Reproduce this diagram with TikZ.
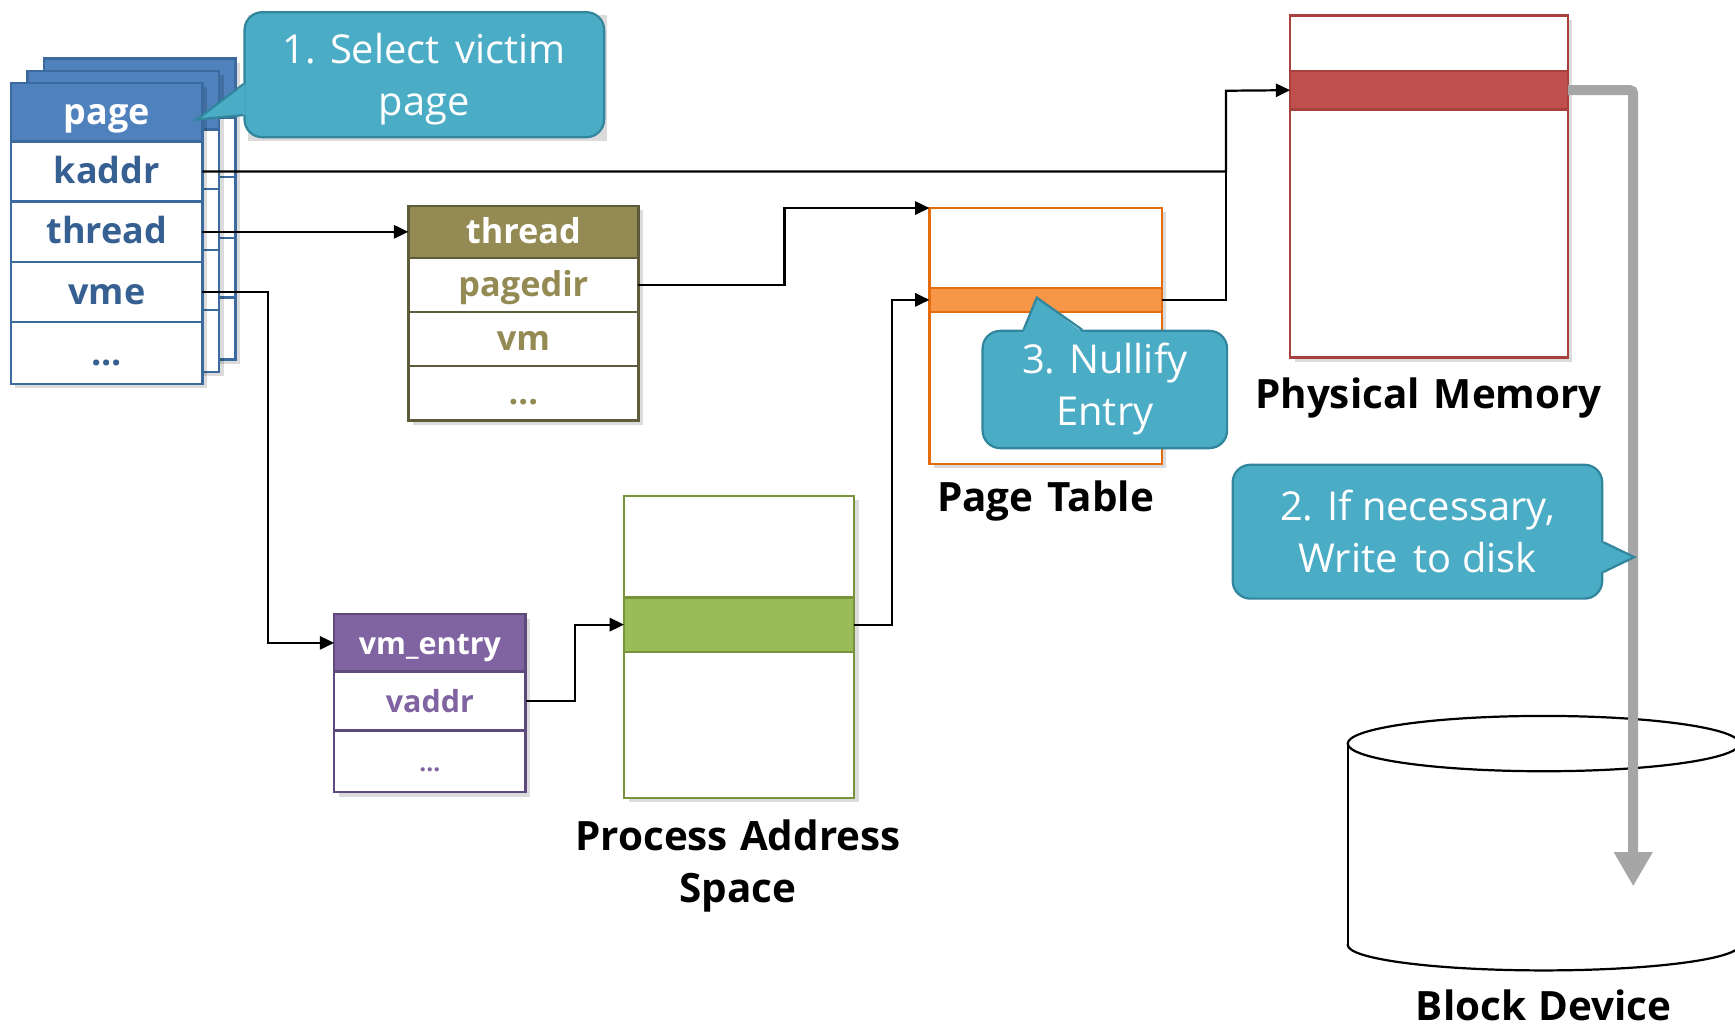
\documentclass[tikz,border=0pt]{standalone}
\usepackage{fontspec}
\setmainfont{Open Sans}
\usetikzlibrary{arrows.meta,calc}
\definecolor{pgblue}{HTML}{4F81BD}
\definecolor{pgborder}{HTML}{3C6A9E}
\definecolor{pgtext}{HTML}{366092}
\definecolor{olhead}{HTML}{948A54}
\definecolor{olborder}{HTML}{5E5A3A}
\definecolor{puhead}{HTML}{8064A2}
\definecolor{puborder}{HTML}{5F4A7D}
\definecolor{grband}{HTML}{9BBB59}
\definecolor{grborder}{HTML}{77933C}
\definecolor{orband}{HTML}{F79646}
\definecolor{orborder}{HTML}{E46C0A}
\definecolor{rdband}{HTML}{C0504D}
\definecolor{rdborder}{HTML}{A8403D}
\definecolor{cofill}{HTML}{4BACC6}
\definecolor{coborder}{HTML}{31859C}
\definecolor{grayarrow}{HTML}{A6A6A6}
\begin{document}
\begin{tikzpicture}[x=1pt,y=-1pt,
  conn/.style={draw=black, line width=2pt, -{Triangle[length=13pt,width=12pt]}},
  plainconn/.style={draw=black, line width=2pt},
  shade/.style={fill=black, opacity=0.14},
  pgcell/.style={draw=pgborder, line width=2.2pt, fill=white, anchor=north west,
    inner sep=0pt, outer sep=0pt, minimum width=173pt, text=pgtext,
    text height=25pt, text depth=3pt, font=\bfseries\fontsize{32.5}{32}\selectfont},
  pghead/.style={pgcell, fill=pgblue, text=white},
  olcell/.style={draw=olborder, line width=2.2pt, fill=white, anchor=north west,
    inner sep=0pt, outer sep=0pt, minimum width=208pt, text=olhead,
    text height=24pt, text depth=3pt, font=\bfseries\fontsize{31}{31}\selectfont},
  olheadc/.style={olcell, fill=olhead, text=white},
  pucell/.style={draw=puborder, line width=2.2pt, fill=white, anchor=north west,
    inner sep=0pt, outer sep=0pt, minimum width=173pt, text=puhead,
    text height=23pt, text depth=2pt, font=\bfseries\fontsize{27.5}{27}\selectfont},
  puheadc/.style={pucell, fill=puhead, text=white},
  memframe/.style={line width=2pt, fill=white, anchor=north west, inner sep=0pt, outer sep=0pt},
  caption/.style={font=\bfseries\fontsize{36.5}{47}\selectfont, align=center, text=black},
  callbox/.style={draw=coborder, fill=cofill, line width=2pt, rounded corners=16pt,
    text=white, align=center, anchor=north west, inner sep=0pt,
    font=\fontsize{36}{47}\selectfont},
  calltext/.style={text=white, align=center, inner sep=0pt, font=\fontsize{36}{47}\selectfont},
  tailfill/.style={fill=cofill},
  tailline/.style={draw=coborder, line width=2pt, line join=miter},
  disk/.style={draw=black, line width=2pt}
]
\useasboundingbox (0,0) rectangle (1568,930);

% ---- page cards (back ones) ----
\foreach \o in {2,1}{
  \fill[shade] (14+15*\o,79-11*\o) rectangle +(173,272);
  \draw[draw=pgborder, line width=2.2pt, fill=white] (10+15*\o,75-11*\o) rectangle +(173,272);
  \draw[draw=pgborder, line width=2.2pt, fill=pgblue] (10+15*\o,75-11*\o) rectangle +(173,53);
  \foreach \yy in {182,237,291}{
    \draw[pgborder, line width=2.2pt] (10+15*\o,\yy-11*\o) -- +(173,0);
  }
}
% ---- front page card ----
\fill[shade] (14,79) rectangle +(173,272);
\node[pghead, minimum height=53pt] (phead) at (10,75) {page};
\node[pgcell, minimum height=54pt] (pkaddr) at (10,128) {kaddr};
\node[pgcell, minimum height=55pt] (pthread) at (10,182) {thread};
\node[pgcell, minimum height=54pt] (pvme) at (10,237) {vme};
\node[pgcell, minimum height=56pt, text height=22pt, text depth=0pt] (pdots) at (10,291) {...};

% ---- thread struct ----
\fill[shade] (373,190) rectangle +(208,194);
\node[olheadc, minimum height=47pt] (thead) at (369,186) {thread};
\node[olcell, minimum height=49pt] (tpagedir) at (369,233) {pagedir};
\node[olcell, minimum height=49pt] (tvm) at (369,282) {vm};
\node[olcell, minimum height=49pt, text height=20pt, text depth=0pt] (tdots) at (369,331) {...};

% ---- vm_entry ----
\fill[shade] (306,559) rectangle +(173,161);
\node[puheadc, minimum height=52pt] (vhead) at (302,555) {vm\_entry};
\node[pucell, minimum height=53pt] (vvaddr) at (302,607) {vaddr};
\node[pucell, minimum height=56pt, text height=18pt, text depth=0pt, font=\bfseries\fontsize{22}{22}\selectfont] (vdots) at (302,660) {...};

% ---- process address space ----
\fill[shade] (568,452) rectangle +(208,273);
\node[memframe, draw=grborder, minimum width=208pt, minimum height=273pt] (pas) at (564,448) {};
\node[memframe, draw=grborder, fill=grband, minimum width=208pt, minimum height=49pt] (pasband) at (564,540) {};
\node[caption] (paslabel) at (667,783) {Process\hspace{0.3em}Address\\Space};

% ---- page table ----
\fill[shade] (844,192) rectangle +(210,231);
\node[memframe, draw=orborder, minimum width=210pt, minimum height=231pt] (pt) at (840,188) {};
\node[memframe, draw=orborder, fill=orband, minimum width=210pt, minimum height=22pt] (ptband) at (840,260) {};
\node[caption] (ptlabel) at (945,453) {Page\hspace{0.35em}Table};

% ---- physical memory ----
\fill[shade] (1170,18) rectangle +(251,309);
\node[memframe, draw=rdborder, minimum width=251pt, minimum height=309pt] (pm) at (1166,14) {};
\node[memframe, draw=rdborder, fill=rdband, minimum width=251pt, minimum height=35pt] (pmband) at (1166,64) {};
\node[caption] (pmlabel) at (1291,360) {Physical\hspace{0.35em}Memory};

% ---- block device ----
\draw[disk, fill=white] (1395,854) ellipse [x radius=177, y radius=23];
\fill[white] (1218,672) rectangle (1572,854);
\draw[disk] (1218,672) -- (1218,854);
\draw[disk] (1572,672) -- (1572,854);
\draw[disk, fill=white] (1395,672) ellipse [x radius=177, y radius=25];
\node[caption] (bdlabel) at (1395,909) {Block\hspace{0.3em}Device};
\coordinate (diskin) at (1476,801);

% ---- connectors ----
\coordinate (pmj) at (1108,82);
\draw[conn] (pkaddr.east) -| (pmj) -- (pmband.west);
\draw[plainconn] (ptband.east) -| (pmj);
\draw[conn] (pthread.east) -- (pthread.east -| thead.west);
\draw[conn] (pvme.east) -- ++(59,0) |- (vhead.west);
\draw[conn] (tpagedir.east) -- ++(132,0) |- (pt.north west);
\draw[conn] (vvaddr.east) -- ++(45,0) |- (pasband.west);
\draw[conn] (pasband.east) -- ++(34,0) |- (ptband.west);

% gray write-back arrow
\draw[draw=grayarrow, line width=9pt, rounded corners=3pt, -{Triangle[length=31pt,width=33pt]}]
  (pmband.east) -- (pmband.east -| diskin) -- (diskin);

% ---- callouts ----
% 1
\fill[shade] (224,14) rectangle +(325,113);
\node[callbox, minimum width=325pt, minimum height=113pt] (c1) at (220,10) {};
\node[calltext] (c1text) at ($(c1.center)+(0,4)$) {1. Select\hspace{0.4em}victim\\page};
\coordinate (c1tip) at (178,108);
\fill[tailfill] ($(c1.north west)+(2,66)$) -- (c1tip) -- ($(c1.north west)+(2,94)$) -- cycle;
\draw[tailline] ($(c1.north west)+(0,66)$) -- (c1tip) -- ($(c1.north west)+(0,94)$);
% 3
\node[callbox, minimum width=221pt, minimum height=106pt] (c3) at (887,298) {3. Nullify\\Entry};
\coordinate (c3tip) at (937,269);
\fill[tailfill] ($(c3.north west)+(38,2)$) -- (c3tip) -- ($(c3.north west)+(91,2)$) -- cycle;
\draw[tailline] ($(c3.north west)+(38,0)$) -- (c3tip) -- ($(c3.north west)+(91,0)$);
% 2
\node[callbox, minimum width=334pt, minimum height=121pt] (c2) at (1113,419) {2. If necessary,\\Write\hspace{0.4em}to disk};
\coordinate (c2tip) at (1477,503.5);
\fill[tailfill] ($(c2.north east)+(-2,71)$) -- (c2tip) -- ($(c2.north east)+(-2,98)$) -- cycle;
\draw[tailline] ($(c2.north east)+(0,71)$) -- (c2tip) -- ($(c2.north east)+(0,98)$);
\end{tikzpicture}
\end{document}
